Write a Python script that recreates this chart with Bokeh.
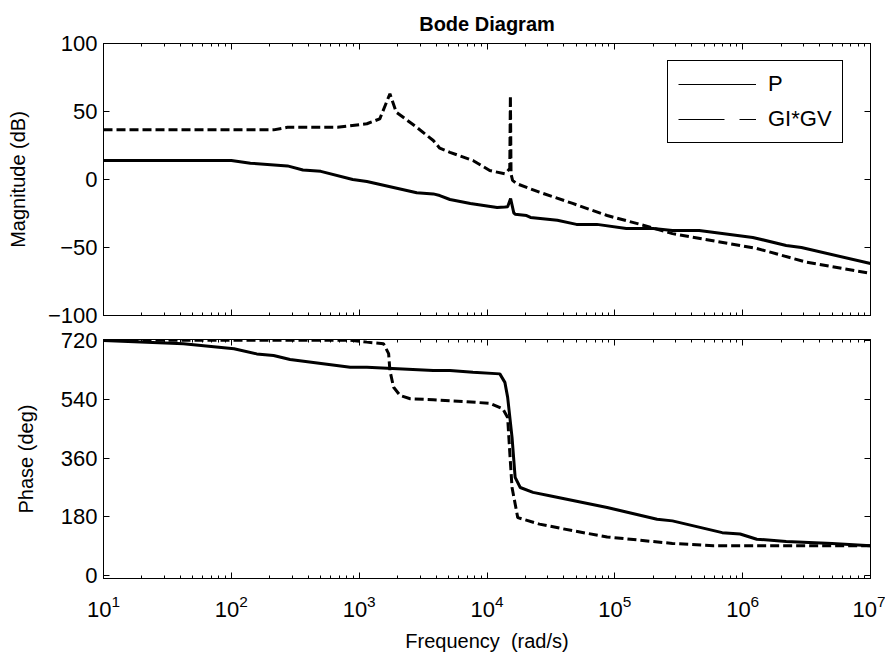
from bokeh.plotting import figure
from bokeh.models import (LogAxis, LinearAxis, Legend, LegendItem, Range1d,
                          FixedTicker, LogTickFormatter)
from bokeh.layouts import column
from bokeh.embed import file_html
from bokeh.resources import INLINE

# ---------------- data ----------------
title_text = "Bode Diagram"
series_names = ["P", "GI*GV"]
x_label = "Frequency \u00a0(rad/s)"
mag_label = "Magnitude (dB)"
phase_label = "Phase (deg)"

# magnitude of P (dB)
mag_p_freq = [10, 100, 141, 275, 363, 501, 891, 1150, 2820, 3800, 4270, 5130,
              7410, 1.20e4, 1.38e4, 1.45e4, 1.53e4, 1.62e4, 1.66e4, 2.04e4,
              2.19e4, 3.55e4, 5.01e4, 7.24e4, 1.23e5, 2.00e5, 2.82e5, 4.57e5,
              1.20e6, 2.19e6, 2.88e6, 1.0e7]
mag_p_db = [14, 14, 12, 10, 7, 6, 0, -1.5, -9.8, -10.6, -11.8, -14.7,
            -17.6, -20.6, -20.3, -20.0, -14.0, -24.5, -25.5, -26.5,
            -27.9, -30, -33, -33, -36, -36, -37.5, -37.5,
            -42.6, -48.5, -50, -61.8]

# magnitude of GI*GV (dB)
mag_g_freq = [10, 214, 275, 676, 1150, 1450, 1740, 1950, 2820, 3800, 4270,
              5130, 7760, 1.05e4, 1.38e4, 1.46e4, 1.507e4, 1.524e4, 1.542e4,
              1.585e4, 1.70e4, 2.57e4, 4.68e4, 8.71e4, 1.58e5, 2.82e5,
              1.29e6, 3.16e6, 1.0e7]
mag_g_db = [36.5, 36.5, 38.4, 38.4, 41, 44.6, 63, 49.5, 38.4, 28.7, 23,
            20, 14, 6.6, 4.2, 6.6, 8, 61.7, 4, -0.7, -3, -9.3, -17.6, -26.5,
            -33, -39.8, -50.7, -60.8, -69]

# phase of P (deg)
ph_p_freq = [10, 42.2, 105, 158, 214, 288, 851, 1150, 3800, 5130, 7760,
             1.26e4, 1.38e4, 1.45e4, 1.57e4, 1.66e4, 1.82e4, 2.29e4, 3.09e4,
             8.71e4, 2.14e5, 2.82e5, 6.92e5, 9.55e5, 1.29e6, 2.19e6, 5.01e6,
             1.0e7]
ph_p_deg = [719, 709, 694, 678, 673, 661, 637, 637, 627, 627, 622,
            617, 591, 546, 423, 301, 270, 255, 245,
            209, 173, 168, 132, 128, 112, 105, 99, 92]

# phase of GI*GV (deg)
ph_g_freq = [10, 851, 1150, 1550, 1700, 1740, 1860, 2090, 2510, 3800, 6920,
             1.05e4, 1.33e4, 1.45e4, 1.51e4, 1.57e4, 1.74e4, 2.57e4, 4.68e4,
             8.71e4, 2.82e5, 5.89e5, 1.0e7]
ph_g_deg = [720, 720, 714, 709, 679, 627, 576, 551, 541, 538, 532,
            527, 510, 484, 372, 270, 178, 158, 138,
            119, 99, 92, 92]

x_major = [1e1, 1e2, 1e3, 1e4, 1e5, 1e6, 1e7]
mag_ticks = [-100, -50, 0, 50, 100]
phase_ticks = [0, 180, 360, 540, 720]

# ---------------- styling ----------------
FONT = "Liberation Sans"
TICK_SIZE = "22px"
LABEL_SIZE = "20px"
FRAME_W = 767
TOP_FRAME_H = 272
x_minor = [m * t for t in x_major[:-1] for m in range(2, 10)]
NAN = float("nan")


def style_axis(ax, labels=True):
    ax.axis_line_color = "black"
    ax.major_tick_line_color = "black"
    ax.minor_tick_line_color = "black"
    ax.major_tick_in = 6
    ax.major_tick_out = 0
    ax.minor_tick_in = 3
    ax.minor_tick_out = 0
    ax.major_label_text_font = FONT
    ax.major_label_text_color = "black"
    ax.axis_label_text_font = FONT
    ax.axis_label_text_font_style = "normal"
    ax.axis_label_text_font_size = LABEL_SIZE
    ax.axis_label_text_color = "black"
    ax.major_label_text_font_size = TICK_SIZE
    ax.major_label_standoff = 6
    if not labels:
        ax.major_label_text_font_size = "1px"
        ax.major_label_text_alpha = 0.0
        ax.major_label_standoff = 0


def make_fig(height, y_range, yticks, top_border, bottom_border):
    p = figure(width=103 + FRAME_W + 15, height=height, x_axis_type="log",
               x_range=Range1d(1e1, 1e7), y_range=y_range,
               output_backend="svg", toolbar_location=None,
               min_border_left=103, min_border_right=15,
               min_border_top=top_border, min_border_bottom=bottom_border)
    p.xgrid.visible = False
    p.ygrid.visible = False
    p.outline_line_color = "black"
    p.outline_line_alpha = 1.0
    p.background_fill_color = "white"
    p.border_fill_color = "white"
    xt = FixedTicker(ticks=x_major, minor_ticks=x_minor)
    yt = FixedTicker(ticks=yticks, minor_ticks=[])
    p.xaxis.ticker = xt
    p.yaxis.ticker = yt
    for ax in p.xaxis:
        style_axis(ax)
    for ax in p.yaxis:
        style_axis(ax)
    top_ax = LogAxis(ticker=xt)
    style_axis(top_ax, labels=False)
    p.add_layout(top_ax, "above")
    right_ax = LinearAxis(ticker=yt)
    style_axis(right_ax, labels=False)
    p.add_layout(right_ax, "right")
    return p


# ---------------- magnitude plot ----------------
top = make_fig(43 + TOP_FRAME_H + 13, Range1d(-100, 100), mag_ticks, 43, 13)
top.title.text = title_text
top.title.align = "center"
top.title.text_font = FONT
top.title.text_font_size = "20px"
top.title.text_font_style = "bold"
top.title.text_color = "black"
top.title.standoff = 18
style_axis(top.below[0], labels=False)
top.left[0].axis_label = mag_label
top.left[0].axis_label_standoff = 16

top.line(mag_p_freq, mag_p_db, line_width=3, line_color="black")
top.line(mag_g_freq, mag_g_db, line_width=3, line_color="black",
         line_dash="9 4")

# thin legend samples (not drawn inside the plot)
leg_p = top.line([NAN], [NAN], line_width=1, line_color="black")
leg_g = top.line([NAN], [NAN], line_width=1, line_color="black",
                 line_dash="46 15")
legend = Legend(items=[LegendItem(label=series_names[0], renderers=[leg_p]),
                       LegendItem(label=series_names[1], renderers=[leg_g])],
                location=(564, 172))
legend.label_text_font = FONT
legend.label_text_font_size = "22px"
legend.label_text_color = "black"
legend.border_line_color = "black"
legend.border_line_width = 1
legend.border_line_alpha = 1.0
legend.background_fill_color = "white"
legend.background_fill_alpha = 1.0
legend.glyph_width = 78
legend.glyph_height = 20
legend.label_standoff = 12
legend.padding = 10
legend.spacing = 9
legend.margin = 0
top.add_layout(legend)

# ---------------- phase plot ----------------
bot = make_fig(11 + 239 + 77, Range1d(-8, 722), phase_ticks, 11, 77)
bot.left[0].axis_label = phase_label
bot.left[0].axis_label_standoff = 21
bot.below[0].axis_label = x_label
bot.below[0].major_label_standoff = 16
bot.below[0].axis_label_standoff = 10
bot.below[0].formatter = LogTickFormatter()

bot.line(ph_p_freq, ph_p_deg, line_width=3, line_color="black")
bot.line(ph_g_freq, ph_g_deg, line_width=3, line_color="black",
         line_dash="9 4")

layout = column(top, bot, spacing=0)
open("out.html", "w").write(file_html(layout, INLINE, title="Bode Diagram"))
